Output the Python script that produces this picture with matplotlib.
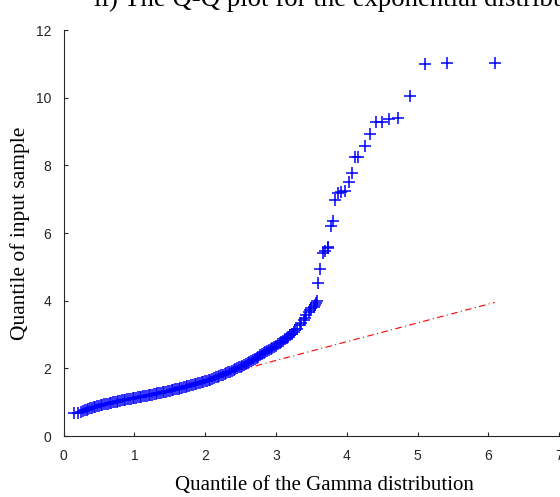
import matplotlib
matplotlib.use("Agg")
import matplotlib.pyplot as plt
import numpy as np

# quantiles (Gamma quantile, sample quantile)
gamma_q = [0.150, 0.200, 0.250, 0.275, 0.300, 0.325, 0.350, 0.375, 0.400, 0.425,
           0.450, 0.475, 0.500, 0.525, 0.550, 0.575, 0.600, 0.625, 0.650, 0.675,
           0.700, 0.725, 0.750, 0.775, 0.800, 0.825, 0.850, 0.875, 0.900, 0.925,
           0.950, 0.975, 1.000, 1.025, 1.050, 1.075, 1.100, 1.125, 1.150, 1.175,
           1.200, 1.225, 1.250, 1.275, 1.300, 1.325, 1.350, 1.375, 1.400, 1.425,
           1.450, 1.475, 1.500, 1.525, 1.550, 1.575, 1.600, 1.625, 1.650, 1.675,
           1.700, 1.725, 1.750, 1.775, 1.800, 1.825, 1.850, 1.875, 1.900, 1.925,
           1.950, 1.975, 2.000, 2.025, 2.050, 2.075, 2.100, 2.125, 2.150, 2.175,
           2.200, 2.225, 2.250, 2.275, 2.300, 2.325, 2.350, 2.375, 2.400, 2.425,
           2.450, 2.475, 2.500, 2.525, 2.550, 2.575, 2.600, 2.625, 2.650, 2.675,
           2.700, 2.725, 2.750, 2.775, 2.800, 2.825, 2.850, 2.875, 2.900, 2.925,
           2.950, 2.975, 3.000, 3.025, 3.050, 3.075, 3.100, 3.125, 3.150, 3.175,
           3.200, 3.225, 3.250, 3.275, 3.300, 3.340, 3.360, 3.390, 3.410, 3.430,
           3.460, 3.480, 3.500, 3.530, 3.550, 3.570, 3.580, 3.600, 3.620, 3.670,
           3.690, 3.740, 3.740, 3.780, 3.810, 3.840, 3.870, 3.920, 3.980, 4.030,
           4.070, 4.120, 4.160, 4.250, 4.330, 4.410, 4.500, 4.600, 4.720, 4.890,
           5.110, 5.410, 6.090]
sample_q = [0.67, 0.69, 0.72, 0.74, 0.76, 0.78, 0.80, 0.82, 0.84, 0.85,
            0.87, 0.88, 0.90, 0.91, 0.92, 0.94, 0.95, 0.96, 0.97, 0.99,
            1.00, 1.01, 1.02, 1.03, 1.04, 1.05, 1.06, 1.07, 1.08, 1.09,
            1.10, 1.11, 1.12, 1.13, 1.14, 1.15, 1.16, 1.17, 1.18, 1.19,
            1.20, 1.21, 1.22, 1.24, 1.25, 1.26, 1.27, 1.28, 1.29, 1.30,
            1.31, 1.33, 1.34, 1.35, 1.36, 1.38, 1.39, 1.40, 1.41, 1.43,
            1.44, 1.46, 1.47, 1.49, 1.50, 1.52, 1.53, 1.55, 1.56, 1.58,
            1.59, 1.61, 1.62, 1.64, 1.65, 1.67, 1.69, 1.71, 1.73, 1.75,
            1.77, 1.79, 1.81, 1.83, 1.85, 1.88, 1.90, 1.93, 1.95, 1.98,
            2.00, 2.03, 2.05, 2.08, 2.10, 2.13, 2.16, 2.19, 2.22, 2.26,
            2.29, 2.32, 2.35, 2.38, 2.41, 2.44, 2.47, 2.50, 2.53, 2.57,
            2.60, 2.64, 2.67, 2.71, 2.74, 2.78, 2.82, 2.86, 2.90, 2.94,
            2.98, 3.03, 3.07, 3.12, 3.17, 3.28, 3.35, 3.43, 3.50, 3.58,
            3.66, 3.72, 3.77, 3.82, 3.88, 3.94, 4.00, 4.53, 4.93, 5.40,
            5.48, 5.60, 5.57, 6.21, 6.36, 6.98, 7.19, 7.22, 7.25, 7.50,
            7.78, 8.26, 8.26, 8.57, 8.93, 9.27, 9.27, 9.37, 9.41, 10.05,
            11.00, 11.02, 11.02]

# reference line (ends)
ref_x = [0.15, 6.09]
ref_y = [0.65, 3.95]

xticks = [0, 1, 2, 3, 4, 5, 6, 7]
yticks = [0, 2, 4, 6, 8, 10, 12]

grey = '#262626'

fig = plt.figure(figsize=(5.6, 4.97), dpi=100)
ax = fig.add_axes([0.1134, 0.1227, 0.8854, 0.8169])

ax.plot(ref_x, ref_y, color='red', lw=0.8, linestyle=(0, (6, 3, 1, 3)))
ax.plot(gamma_q, sample_q, '+', color='blue', ms=8, mew=1.1)

ax.set_xlim(0, 7)
ax.set_ylim(0, 12)
ax.set_xticks(xticks)
ax.set_yticks(yticks)
ax.spines['top'].set_visible(False)
ax.spines['right'].set_visible(False)
for s in ('left', 'bottom'):
    ax.spines[s].set_color(grey)
    ax.spines[s].set_linewidth(0.8)
ax.tick_params(direction='in', length=3, width=0.8, color=grey,
               labelcolor=grey, labelsize=10, pad=9)
for lab in ax.get_xticklabels() + ax.get_yticklabels():
    lab.set_family('Liberation Sans')

ax.set_xlabel('Quantile of the Gamma distribution', family='Liberation Serif',
              fontsize=15, labelpad=8)
ax.xaxis.set_label_coords(0.527, -0.0975)
ax.set_ylabel('Quantile of input sample', family='Liberation Serif',
              fontsize=15.5, labelpad=4)

# title that is cut off by the top edge
fig.text(94 / 560, 1 - 6.5 / 497, 'ii) The Q-Q plot for the exponential distribution',
         family='Liberation Serif', fontsize=19.3, ha='left', va='baseline')

fig.savefig('out.png', dpi=100)
